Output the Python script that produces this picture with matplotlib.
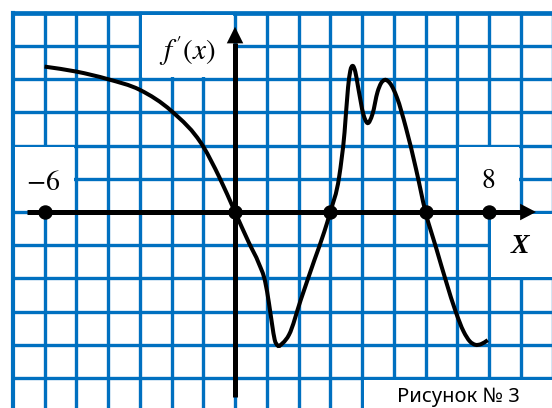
import numpy as np
import matplotlib
matplotlib.use("Agg")
import matplotlib.pyplot as plt
from matplotlib.path import Path
from matplotlib.patches import PathPatch, Rectangle, Polygon

# points
curve_x = [-6, -5, -4, -3, -2, -1, -0.5, 0, 0.44, 0.75, 0.95, 1.07, 1.17, 1.25,
           1.34, 1.5, 1.7, 2.07, 2.5, 2.81, 3.0, 3.28, 3.45, 3.56, 3.63, 3.71,
           3.79, 3.87, 4.05, 4.17, 4.33, 4.49, 4.60, 4.72, 4.88, 5.1, 5.38, 5.70,
           6.0, 6.34, 6.65, 6.95, 7.2, 7.4, 7.57, 7.75, 7.96]
curve_y = [4.38, 4.23, 4.0, 3.68, 3.04, 1.97, 1.06, 0, -0.93, -1.55, -2.1, -2.75, -3.4, -3.85,
           -4.02, -3.95, -3.7, -2.65, -1.45, -0.6, 0, 1.06, 2.4, 3.75, 4.25, 4.40,
           4.22, 3.8, 2.92, 2.68, 2.95, 3.62, 3.88, 3.98, 3.88, 3.45, 2.55, 1.3,
           0, -1.1, -2.1, -3.0, -3.6, -3.9, -4.0, -3.98, -3.86]

# marked points on the x axis
dot_x = [-6, 0, 3, 6, 8]

GRID_BLUE = "#0070C0"


def smooth_path(xs, ys):
    # piecewise cubic hermite through the points, written as bezier segments
    x = np.asarray(xs, float)
    y = np.asarray(ys, float)
    h = np.diff(x)
    d = np.diff(y) / h
    m = np.empty_like(y)
    m[0], m[-1] = d[0], d[-1]
    m[1:-1] = (h[:-1] * d[1:] + h[1:] * d[:-1]) / (h[:-1] + h[1:])
    verts = [(x[0], y[0])]
    codes = [Path.MOVETO]
    for i in range(len(x) - 1):
        s = h[i] / 3
        verts += [(x[i] + s, y[i] + m[i] * s),
                  (x[i + 1] - s, y[i + 1] - m[i + 1] * s),
                  (x[i + 1], y[i + 1])]
        codes += [Path.CURVE4] * 3
    return Path(verts, codes)


fig = plt.figure(figsize=(5.52, 4.08), dpi=100)
ax = fig.add_axes([0, 0, 1, 1])
ax.set_xlim(-7.402, 9.984)
ax.set_ylim(-5.904, 6.386)
ax.axis("off")

# blue squared paper
for gx in range(-7, 11):
    lw = 3.0 if gx == -7 else 2.4
    ax.plot([gx, gx], [-6.5, 6], color=GRID_BLUE, lw=lw, solid_capstyle="projecting", zorder=1)
for gy in range(-6, 7):
    lw = 3.4 if gy == 6 else 2.4
    ax.plot([-7, 10.5], [gy, gy], color=GRID_BLUE, lw=lw, solid_capstyle="projecting", zorder=1)

# blank cells behind the labels
ix, iy = 0.06, 0.055
for (x0, y0, w, h) in [(-3, 4, 3, 2), (-7, 0, 2, 2), (7, 0, 2, 2), (8, -2, 3, 2), (4, -7, 7, 2)]:
    ax.add_patch(Rectangle((x0 + ix, y0 + iy), w - 2 * ix, h - 2 * iy,
                           facecolor="white", edgecolor="none", zorder=1.5))

# axes with arrows
ax.plot([-6.55, 9.0], [0, 0], color="black", lw=3.6, solid_capstyle="butt", zorder=3)
ax.add_patch(Polygon([(9.48, 0), (8.98, 0.25), (8.98, -0.25)], closed=True,
                     facecolor="black", edgecolor="none", zorder=3))
ax.plot([0, 0], [-5.56, 5.1], color="black", lw=3.6, solid_capstyle="butt", zorder=3)
ax.add_patch(Polygon([(0, 5.58), (-0.26, 5.08), (0.26, 5.08)], closed=True,
                     facecolor="black", edgecolor="none", zorder=3))

# derivative curve
ax.add_patch(PathPatch(smooth_path(curve_x, curve_y), facecolor="none",
                       edgecolor="black", lw=2.9, capstyle="butt", zorder=4))

ax.plot(dot_x, [0] * len(dot_x), "o", color="black", markersize=9.4, zorder=5)

plt.rcParams["mathtext.fontset"] = "stix"
ax.text(-1.51, 4.85, r"$f\,'(x)$", fontsize=21, ha="center", va="center", zorder=6)
ax.text(-6.05, 0.9, r"$-6$", fontsize=20, ha="center", va="center", zorder=6)
ax.text(7.98, 0.96, r"$8$", fontsize=20, ha="center", va="center", zorder=6)
ax.text(8.98, -1.05, "X", family="Liberation Serif", fontweight="bold", fontstyle="italic",
        fontsize=20, ha="center", va="center", zorder=6)
ax.text(7.02, -5.57, "Рисунок № 3", family="Noto Sans", fontsize=14.5,
        ha="center", va="center", zorder=6)

fig.savefig("out.png", dpi=100, facecolor="white")
